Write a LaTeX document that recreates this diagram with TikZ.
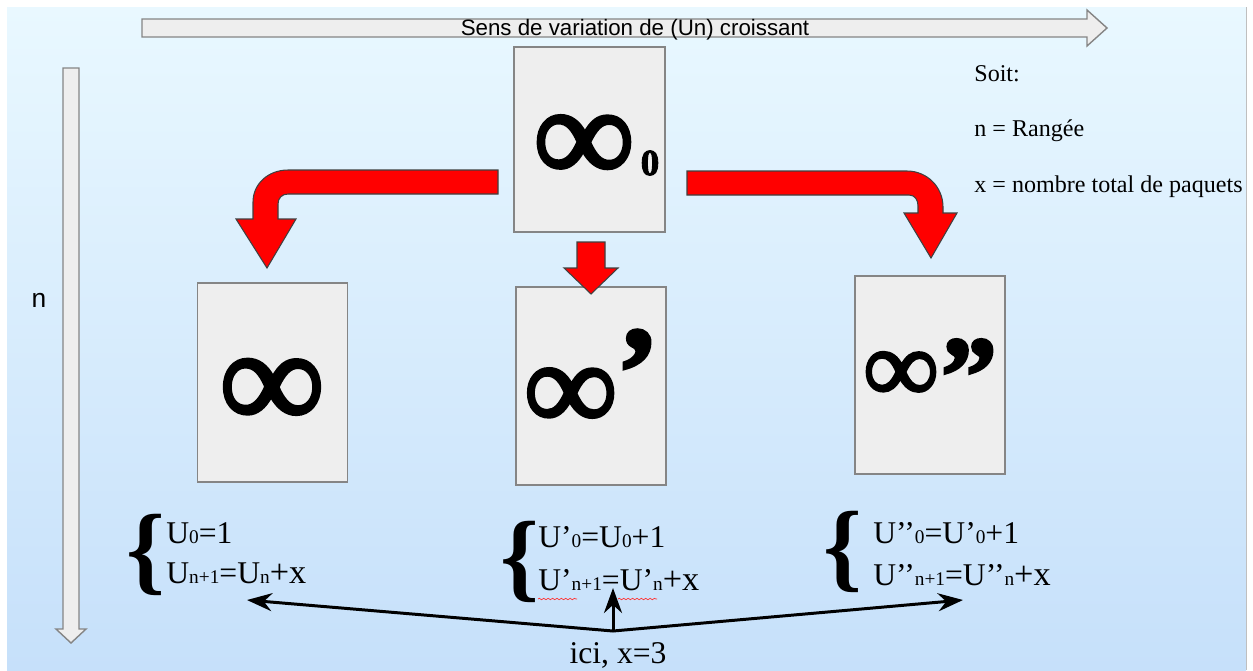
\documentclass[tikz,border=0pt]{standalone}
\usepackage{fontspec}
\setmainfont{Liberation Serif}
\setsansfont{Liberation Sans}
\newfontfamily\grasinf{Liberation Serif}[BoldFeatures={FakeBold=2.5}]
\usetikzlibrary{arrows.meta,decorations.pathmorphing}

\definecolor{fondhaut}{HTML}{E9F8FF}
\definecolor{fondbas}{HTML}{C6E0FA}
\definecolor{carte}{HTML}{EEEEEE}
\definecolor{bord}{HTML}{858585}

\newcommand{\gras}[1]{\grasinf\bfseries\fontsize{#1}{#1}\selectfont}
\newcommand{\indice}[1]{{\fontsize{11}{11}\selectfont #1}}
\newcommand{\plusx}{{\fontsize{19.5}{19.5}\selectfont +x}}

\tikzset{
  boite/.style={draw=bord, fill=carte, line width=0.8pt, inner sep=0pt, outer sep=0pt, minimum width=3cm},
  symbole/.style={inner sep=0pt},
  fleche grise/.style={draw=bord, fill=carte, line width=0.8pt},
  fleche rouge/.style={draw=black!75, fill=red, line width=0.6pt},
  formule/.style={anchor=base west, inner sep=0pt, font=\fontsize{18}{18}\selectfont},
  accolade/.style={inner sep=0pt, font=\bfseries\fontsize{56}{56}\selectfont},
  legende/.style={anchor=base west, inner sep=0pt, font=\fontsize{13.7}{13.7}\selectfont},
  renvoi/.style={line width=1.7pt, -{Stealth[length=0.5cm,width=0.36cm]}}
}

\begin{document}
\begin{tikzpicture}[x=0.02cm, y=-0.02cm]

      \useasboundingbox (0,0) rectangle (1253,670);
      \fill[white] (0,0) rectangle (1253,670);
      \shade[top color=fondhaut, bottom color=fondbas] (7,7) rectangle (1246,670);
      \draw[black!25] (1246,7) -- (1246,670);

      % les deux axes
      \draw[fleche grise] (142,19) -- (1087,19) -- (1087,10) -- (1107,28) -- (1087,46) -- (1087,37) -- (142,37) -- cycle;
      \node[anchor=base, font=\sffamily\fontsize{12.7}{12.7}\selectfont] (sens) at (635,35) {Sens de variation de (Un) croissant};

      \draw[fleche grise] (63,68) -- (79,68) -- (79,629) -- (86,629) -- (71,643) -- (56,629) -- (63,629) -- cycle;
      \node[font=\sffamily\fontsize{15}{15}\selectfont] (rang) at (39,300) {n};

      % les cartes
      \node[boite, minimum width=3.02cm, minimum height=3.7cm] (u0) at (589.5,139.5) {};
      \node[symbole, font=\gras{79}] (inf0) at (584,149) {∞};
      \node[symbole, font=\gras{21}] (zero) at (650,163) {0};

      \node[boite, minimum height=3.98cm] (u) at (272.5,382.5) {};
      \node[symbole, font=\gras{82}] (inf) at (272,394) {∞};

      \node[boite, minimum height=3.96cm] (u1) at (591,386) {};
      \node[symbole, font=\gras{73}] (inf1) at (592,380) {\raisebox{-0.3cm}{∞}’};

      \node[boite, minimum height=3.96cm] (u2) at (930,375) {};
      \node[symbole, font=\gras{59}] (inf2) at (901,377) {∞};
      \node[symbole, anchor=north, font=\gras{64}] (prime2) at (969,339) {”};

      % fleches rouges
      \draw[fleche rouge] (498,170) -- (288,170) .. controls (268,170) and (253,184) .. (253,202) -- (253,219) -- (236,219) -- (267,268) -- (296,219) -- (278,219) -- (278,204) .. controls (278,198) and (282,194) .. (288,194) -- (498,194) -- cycle;

      \draw[fleche rouge] (577,242) -- (605,242) -- (605,268) -- (618,268) -- (591,294) -- (564,268) -- (577,268) -- cycle;

      \draw[fleche rouge] (687,171) -- (907,171) .. controls (927,171) and (943,187) .. (943,207) -- (943,213) -- (957,213) -- (931,258) -- (904,213) -- (918,213) -- (918,206) .. controls (918,200) and (915,195) .. (909,195) -- (687,195) -- cycle;

      % suites
      \node[accolade] (accA) at (146,555) {\{};
      \node[formule] (a1) at (166,543) {U\indice{0}=1};
      \node[formule] (a2) at (166,583) {U\indice{n+1}=U\indice{n}\plusx};

      \node[accolade] (accB) at (520,562) {\{};
      \node[formule] (b1) at (538,547) {U’\indice{0}=U\indice{0}+1};
      \node[formule] (b2) at (538,590) {U’\indice{n+1}=U’\indice{n}\plusx};

      \node[accolade] (accC) at (843,552) {\{};
      \node[formule] (c1) at (873,543) {U’’\indice{0}=U’\indice{0}+1};
      \node[formule] (c2) at (873,585) {U’’\indice{n+1}=U’’\indice{n}\plusx};

      \draw[red!80, line width=0.4pt, decorate, decoration={snake, amplitude=0.4pt, segment length=2.5pt}] (538,599) -- (577,599);
      \draw[red!80, line width=0.4pt, decorate, decoration={snake, amplitude=0.4pt, segment length=2.5pt}] (618,599) -- (657,599);

      % renvois vers x
      \node[formule, anchor=base] (ici) at (618,663) {ici, x=3};
      \coordinate (noeud) at (613,631);
      \coordinate (versA) at (247,600);
      \coordinate (versB) at (613,588);
      \coordinate (versC) at (963,600);
      \draw[renvoi] (noeud) -- (versA);
      \draw[renvoi] (noeud) -- (versB);
      \draw[renvoi] (noeud) -- (versC);

      % legende
      \node[legende] (soit) at (974,81) {Soit:};
      \node[legende] (rangee) at (974,136) {n = Rangée};
      \node[legende] (paquets) at (974,192) {x = nombre total de paquets};

\end{tikzpicture}
\end{document}
